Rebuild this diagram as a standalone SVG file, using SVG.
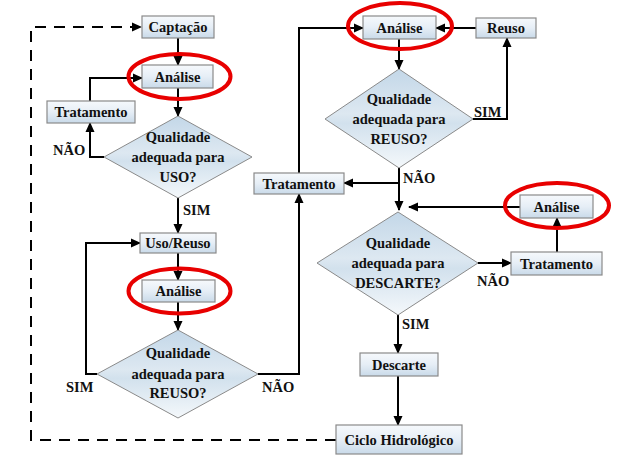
<svg xmlns="http://www.w3.org/2000/svg" width="625" height="470" viewBox="0 0 625 470">
<defs>
<linearGradient id="gb" x1="0" y1="0" x2="0" y2="1">
<stop offset="0" stop-color="#f6f9fc"/>
<stop offset="0.5" stop-color="#e6eef6"/>
<stop offset="1" stop-color="#c9dae9"/>
</linearGradient>
<linearGradient id="gd" x1="0" y1="0" x2="0" y2="1">
<stop offset="0" stop-color="#c3d7e8"/>
<stop offset="0.45" stop-color="#dde8f1"/>
<stop offset="0.55" stop-color="#d2e1ed"/>
<stop offset="1" stop-color="#f4f8fb"/>
</linearGradient>
<marker id="ah" markerWidth="10" markerHeight="10" refX="9" refY="5" orient="auto" markerUnits="userSpaceOnUse">
<path d="M0,0.5 L10,5 L0,9.5 Z" fill="#000"/>
</marker>
</defs>
<style>
text{font-family:'Liberation Serif','DejaVu Serif',serif;font-weight:bold;font-size:14.5px;fill:#111;text-anchor:middle}
.lbl{text-anchor:start}
.box{fill:url(#gb);stroke:#8a8a8a;stroke-width:1.2}
.dia{fill:url(#gd);stroke:#8a8a8a;stroke-width:1}
.ring{fill:none;stroke:#e80000;stroke-width:4}
.ca{fill:none;stroke:#000;stroke-width:2;marker-end:url(#ah)}
.dash{fill:none;stroke:#000;stroke-width:2;stroke-dasharray:11,8}
</style>
<rect width="625" height="470" fill="#fff"/>

<g id="connectors">
<path class="dash" d="M336,440 L31,440 L31,27 L132,27"/>
<path d="M132,22.5 L142,27 L132,31.5 Z" fill="#000"/>
<path class="ca" d="M178,38 L178,65"/>
<path class="ca" d="M178,88 L178,116"/>
<path class="ca" d="M104,157 L90,157 L90,123"/>
<path class="ca" d="M90,101 L90,78 L142,78"/>
<path class="ca" d="M178,198 L178,233"/>
<path class="ca" d="M178,253 L178,280"/>
<path class="ca" d="M178,302 L178,330"/>
<path class="ca" d="M97,374 L86,374 L86,243 L140,243"/>
<path class="ca" d="M258,374 L299,374 L299,194"/>
<path class="ca" d="M299,173 L299,28 L363,28"/>
<path class="ca" d="M476,28 L436,28"/>
<path class="ca" d="M399,39 L399,69"/>
<path class="ca" d="M473,119 L507,119 L507,38"/>
<path class="ca" d="M399,168 L399,210"/>
<path class="ca" d="M399,183 L344,183"/>
<path class="ca" d="M520,207 L409,207"/>
<path class="ca" d="M478,263 L511,263"/>
<path class="ca" d="M557,252 L557,218"/>
<path class="ca" d="M398,315 L398,353"/>
<path class="ca" d="M398,376 L398,425"/>
<text class="lbl" x="53" y="155">NÃO</text>
<text class="lbl" x="183" y="215">SIM</text>
<text class="lbl" x="66" y="392">SIM</text>
<text class="lbl" x="262" y="392">NÃO</text>
<text class="lbl" x="474" y="117">SIM</text>
<text class="lbl" x="403" y="183">NÃO</text>
<text class="lbl" x="477" y="286">NÃO</text>
<text class="lbl" x="402" y="329">SIM</text>
</g>

<g id="captacao"><rect class="box" x="142" y="16" width="72" height="22"/><text x="178" y="32">Captação</text></g>
<g id="analise1"><rect class="box" x="142" y="65" width="71" height="23"/><text x="177.5" y="81.5">Análise</text><ellipse class="ring" cx="179.5" cy="76.5" rx="51" ry="22.5"/></g>
<g id="tratamento1"><rect class="box" x="47" y="101" width="88" height="22"/><text x="91" y="117">Tratamento</text></g>
<g id="decisao-uso"><polygon class="dia" points="178,116 252,157 178,198 104,157"/><text x="178" y="142">Qualidade</text><text x="178" y="162">adequada para</text><text x="178" y="182">USO?</text></g>
<g id="uso-reuso"><rect class="box" x="140" y="233" width="76" height="20"/><text x="178" y="248">Uso/Reuso</text></g>
<g id="analise2"><rect class="box" x="142" y="280" width="73" height="22"/><text x="178.5" y="296">Análise</text><ellipse class="ring" cx="179.5" cy="291" rx="51" ry="22.5"/></g>
<g id="decisao-reuso1"><polygon class="dia" points="178,330 258,374 178,418 97,374"/><text x="178" y="358">Qualidade</text><text x="178" y="379">adequada para</text><text x="178" y="398">REUSO?</text></g>
<g id="tratamento2"><rect class="box" x="254" y="173" width="90" height="21"/><text x="299" y="188.5">Tratamento</text></g>
<g id="analise3"><rect class="box" x="363" y="16" width="73" height="23"/><text x="399.5" y="32.5">Análise</text><ellipse class="ring" cx="400" cy="26" rx="52" ry="23"/></g>
<g id="reuso"><rect class="box" x="476" y="18" width="60" height="20"/><text x="506" y="33">Reuso</text></g>
<g id="decisao-reuso2"><polygon class="dia" points="399,69 473,119 399,168 325,119"/><text x="399" y="104">Qualidade</text><text x="399" y="124">adequada para</text><text x="399" y="144">REUSO?</text></g>
<g id="analise4"><rect class="box" x="520" y="195" width="73" height="23"/><text x="556.5" y="211.5">Análise</text><ellipse class="ring" cx="557" cy="205.5" rx="52" ry="22.5"/></g>
<g id="decisao-descarte"><polygon class="dia" points="398,212 478,263 398,315 317,263"/><text x="398" y="248">Qualidade</text><text x="398" y="268">adequada para</text><text x="398" y="288">DESCARTE?</text></g>
<g id="tratamento3"><rect class="box" x="511" y="252" width="91" height="23"/><text x="556.5" y="268.5">Tratamento</text></g>
<g id="descarte"><rect class="box" x="360" y="353" width="78" height="23"/><text x="399" y="369.5">Descarte</text></g>
<g id="ciclo"><rect class="box" x="336" y="425" width="126" height="29"/><text x="399" y="444.5">Ciclo Hidrológico</text></g>
</svg>
